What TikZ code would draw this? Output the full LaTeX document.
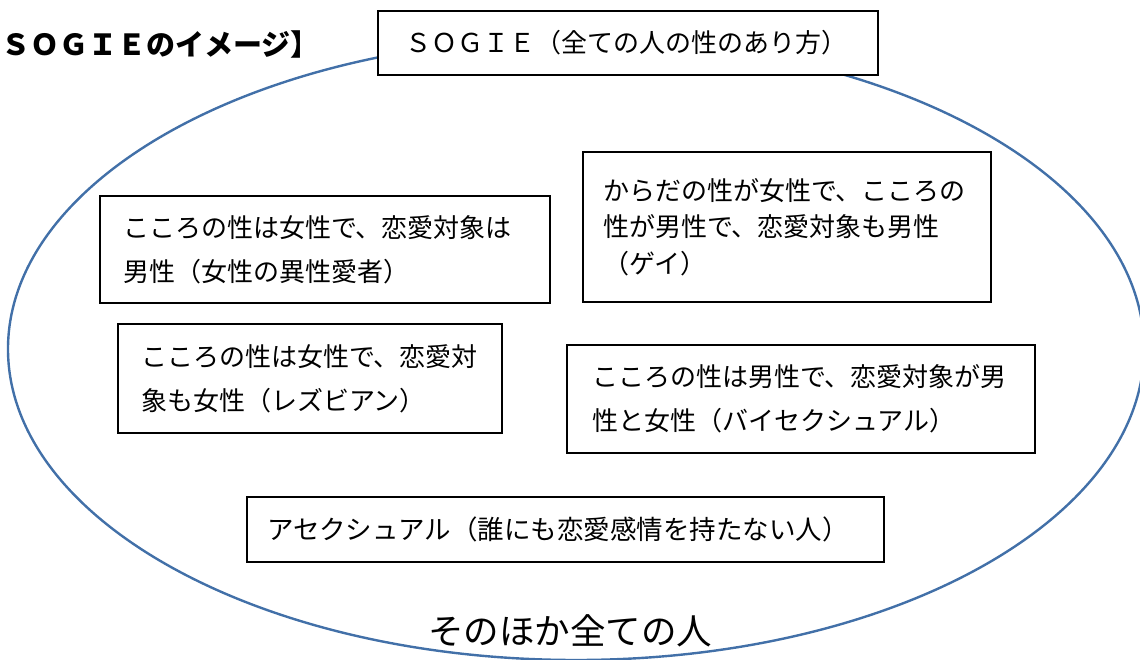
\documentclass[tikz,border=0pt]{standalone}
\usepackage{fontspec}
\newfontfamily\jp{Noto Sans CJK JP}
\definecolor{ringblue}{RGB}{66,112,168}
\begin{document}
\begin{tikzpicture}[x=1pt,y=-1pt,
  jbox/.style={draw=black, line width=1.6pt, fill=white, align=left, inner ysep=0pt,
    font=\jp\fontsize{26}{44}\selectfont},
  ring/.style={draw=ringblue, line width=2.4pt}]
\useasboundingbox (0,0) rectangle (1140,660);
\draw[ring] (576,349) ellipse [x radius=568pt, y radius=311pt];
\node[anchor=west, inner sep=0pt, font=\jp\bfseries\fontsize{29}{32}\selectfont] (title) at (1,44) {ＳＯＧＩＥのイメージ】};
\node[jbox, inner xsep=27pt, text width=446pt, minimum height=64pt, font=\jp\fontsize{26}{30}\selectfont] (sogie) at (628,43) {ＳＯＧＩＥ（全ての人の性のあり方）};
\node[jbox, inner xsep=23pt, text width=404pt, minimum height=107pt] (hetero) at (325,249.5) {こころの性は女性で、恋愛対象は\\男性（女性の異性愛者）};
\node[jbox, inner xsep=20pt, text width=368pt, minimum height=150pt, font=\jp\fontsize{26}{36.5}\selectfont] (gay) at (787,227) {からだの性が女性で、こころの\\性が男性で、恋愛対象も男性\\（ゲイ）};
\node[jbox, inner xsep=23pt, text width=338pt, minimum height=109pt] (lesbian) at (310,378.5) {\raisebox{-4pt}{\parbox{338pt}{こころの性は女性で、恋愛対\\象も女性（レズビアン）}}};
\node[jbox, inner xsep=25pt, text width=418pt, minimum height=108pt] (bi) at (801,399) {\raisebox{-4pt}{\parbox{418pt}{こころの性は男性で、恋愛対象が男\\性と女性（バイセクシュアル）}}};
\node[jbox, inner xsep=20pt, text width=597pt, minimum height=65pt, font=\jp\fontsize{26.5}{30}\selectfont] (ace) at (565.5,529.5) {アセクシュアル（誰にも恋愛感情を持たない人）};
\node[inner sep=0pt, font=\jp\fontsize{35.5}{40}\selectfont] (others) at (570,631) {そのほか全ての人};
\end{tikzpicture}
\end{document}
